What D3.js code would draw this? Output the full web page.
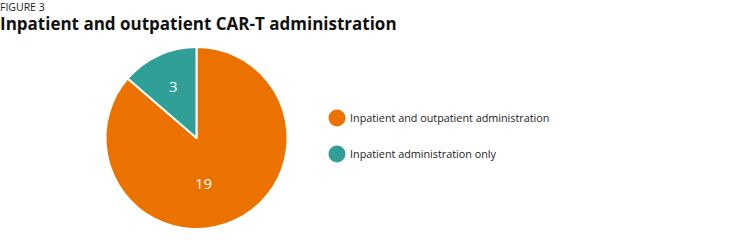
<!DOCTYPE html>
<html>
<head>
<meta charset="utf-8">
<script src="https://cdn.jsdelivr.net/npm/d3@7"></script>
<style>
  body { margin: 0; background: #fff; font-family: "Open Sans", sans-serif; }
</style>
</head>
<body>
<script>
var categories = ["Inpatient and outpatient administration", "Inpatient administration only"];
var values = [19, 3];
var colors = ["#EC7200", "#2F9F97"];

var width = 750, height = 240;

var svg = d3.select("body")
  .append("svg")
    .attr("width", width)
    .attr("height", height);

// titles
svg.append("text")
  .attr("x", 0).attr("y", 11)
  .style("font-size", "10.5px")
  .style("fill", "#222")
  .text("FIGURE 3");

svg.append("text")
  .attr("x", 0).attr("y", 30)
  .style("font-size", "17px")
  .style("font-weight", "bold")
  .style("fill", "#111")
  .text("Inpatient and outpatient CAR-T administration");

// pie
var cx = 196.5, cy = 138, r = 91;
var data = categories.map(function(c, i) { return { name: c, value: values[i] }; });

var pie = d3.pie().sort(null).value(function(d) { return d.value; });
var arc = d3.arc().innerRadius(0).outerRadius(r);
var labelArc = d3.arc().innerRadius(56).outerRadius(56);

var g = svg.append("g").attr("transform", "translate(" + cx + "," + cy + ")");

var slices = g.selectAll("g.slice")
  .data(pie(data))
  .enter().append("g").attr("class", "slice");

slices.append("path")
  .attr("d", arc)
  .attr("fill", function(d, i) { return colors[i]; })
  .attr("stroke", "#fff")
  .attr("stroke-width", 2)
  .attr("stroke-linejoin", "round");

slices.append("text")
  .attr("transform", function(d) {
    var c = labelArc.centroid(d);
    // big slice label sits close to the bottom
    if (d.endAngle - d.startAngle > Math.PI) c = [c[0] * 0.3, c[1] * 0.9];
    return "translate(" + c + ")";
  })
  .attr("dy", "0.35em")
  .attr("text-anchor", "middle")
  .style("font-size", "15px")
  .style("fill", "#fff")
  .text(function(d) { return d.data.value; });

// legend
var legend = svg.append("g").attr("transform", "translate(337,118)");
var items = legend.selectAll("g")
  .data(categories)
  .enter().append("g")
    .attr("transform", function(d, i) { return "translate(0," + i * 36 + ")"; });

items.append("circle")
  .attr("r", 8.5)
  .attr("fill", function(d, i) { return colors[i]; });

items.append("text")
  .attr("x", 13)
  .attr("dy", "0.35em")
  .style("font-size", "10.8px")
  .style("fill", "#222")
  .text(function(d) { return d; });
</script>
</body>
</html>
